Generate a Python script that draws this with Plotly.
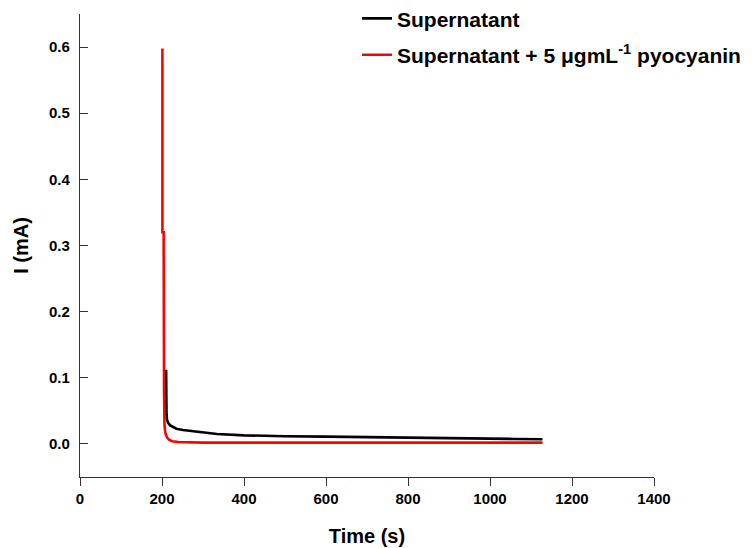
import plotly.graph_objects as go

# Supernatant (black)
t_sup = [210, 210, 211, 212, 215, 220, 228, 235, 251, 275, 300, 334, 400, 463, 500, 600, 700, 800, 900, 1000, 1060, 1128]
i_sup = [0.112, 0.060, 0.045, 0.037, 0.032, 0.028, 0.025, 0.023, 0.021, 0.019, 0.017, 0.015, 0.013, 0.012, 0.0115, 0.011, 0.010, 0.009, 0.0085, 0.008, 0.0075, 0.007]

# Supernatant + 5 ugmL-1 pyocyanin (red)
t_pyo = [201, 201, 204, 204, 205, 206, 208, 212, 218, 225, 240, 300, 400, 600, 800, 1000, 1128]
i_pyo = [0.598, 0.320, 0.320, 0.200, 0.080, 0.030, 0.017, 0.010, 0.006, 0.004, 0.003, 0.002, 0.002, 0.002, 0.002, 0.002, 0.002]

x_ticks = [0, 200, 400, 600, 800, 1000, 1200, 1400]
y_ticks = [0.0, 0.1, 0.2, 0.3, 0.4, 0.5, 0.6]

FONT = "Liberation Sans, Arial, sans-serif"

fig = go.Figure()
fig.add_trace(go.Scatter(x=t_sup, y=i_sup, mode="lines", name="Supernatant",
                         legendgroup="a", line=dict(color="black", width=2.6)))
fig.add_trace(go.Scatter(x=t_pyo, y=i_pyo, mode="lines",
                         name="Supernatant + 5 \u03bcgmL<sup>-1</sup> pyocyanin",
                         legendgroup="b", line=dict(color="#ff0000", width=2.6)))

# page body has an 8px default margin, so the figure is sized to fit inside it
fig.update_layout(
    width=746, height=540,
    margin=dict(l=72, r=100, t=6, b=71, autoexpand=False),
    paper_bgcolor="white", plot_bgcolor="white",
    font=dict(family=FONT, color="black"),
    legend=dict(x=0.4826, y=1.034, xanchor="left", yanchor="top",
                font=dict(size=21, weight="bold", family=FONT),
                bgcolor="rgba(0,0,0,0)", traceorder="grouped", tracegroupgap=6),
    xaxis=dict(range=[0, 1400], tickvals=x_ticks, ticks="outside", ticklen=8,
               tickcolor="#333", showline=True, linecolor="#333", linewidth=1.3,
               showgrid=False, zeroline=False,
               tickfont=dict(size=15, weight="bold", family=FONT),
               title=dict(text="Time (s)", font=dict(size=20, weight="bold", family=FONT), standoff=22)),
    yaxis=dict(range=[-0.05, 0.65], tickvals=y_ticks, tickformat=".1f", ticks="inside", ticklen=8,
               tickcolor="#333", showline=True, linecolor="#333", linewidth=1.3,
               showgrid=False, zeroline=False, ticklabelstandoff=6,
               tickfont=dict(size=15, weight="bold", family=FONT),
               title=dict(text="I (mA)", font=dict(size=20, weight="bold", family=FONT), standoff=14)),
)

fig.write_html("out.html")
